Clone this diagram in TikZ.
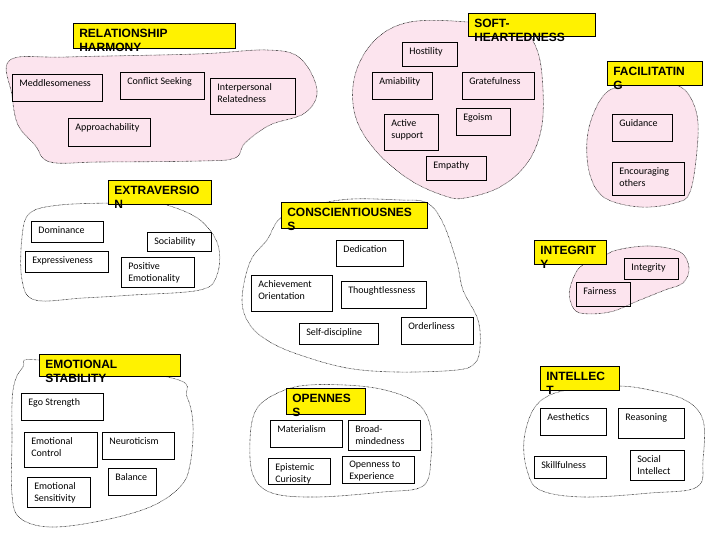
\documentclass[tikz,border=0pt]{standalone}
\usepackage{fontspec}
\setmainfont{Carlito}
\newfontfamily\headfont{Liberation Sans}
\definecolor{blobpink}{RGB}{252,228,238}

\begin{document}
\begin{tikzpicture}[x=1pt, y=-1pt,
    facet/.style={draw=black, line width=0.7pt},
    facettext/.style={anchor=north west, inner xsep=7pt, inner ysep=5pt, align=left, font=\fontsize{10}{12}\selectfont},
    headbox/.style={draw=black, fill=yellow, line width=0.6pt},
    headtext/.style={anchor=north west, inner xsep=6pt, inner ysep=6pt, align=left, font=\headfont\bfseries\fontsize{12}{14}\selectfont},
    blob/.style={draw=black, line width=0.6pt, dash pattern=on 0.5pt off 0.8pt}]

    \useasboundingbox (0,0) rectangle (720,540);

    % clusters
    \filldraw[blob, fill=blobpink] plot[smooth cycle, tension=0.6] coordinates {(10,60) (67,57) (197,54) (267,50) (300,58) (317,90) (305,113) (270,125) (245,143) (235,158) (200,161) (100,162) (50,162) (35,145) (18,125) (12,95)};
    \filldraw[blob, fill=blobpink] plot[smooth cycle, tension=0.6] coordinates {(468,22) (410,22) (375,40) (355,75) (355,115) (375,150) (410,180) (445,196) (465,198) (500,187) (528,162) (542,125) (542,75) (535,45) (520,30)};
    \filldraw[blob, fill=blobpink] plot[smooth cycle, tension=0.6] coordinates {(640,83) (610,90) (595,110) (587,140) (590,175) (605,198) (640,207) (675,203) (690,192) (697,150) (697,115) (685,90) (665,83)};
    \draw[blob] plot[smooth cycle, tension=0.6] coordinates {(113,203) (60,205) (30,213) (22,237) (22,280) (35,300) (83,298) (133,295) (200,290) (217,275) (218,245) (200,220) (170,206) (147,203)};
    \draw[blob] plot[smooth cycle, tension=0.6] coordinates {(400,200) (427,203) (443,223) (457,263) (463,290) (478,320) (480,347) (475,363) (457,370) (397,372) (347,368) (300,355) (270,342) (250,325) (242,300) (250,262) (267,240) (285,215) (340,200)};
    \filldraw[blob, fill=blobpink] plot[smooth cycle, tension=0.6] coordinates {(580,267) (600,258) (617,250) (650,246) (680,252) (689,268) (683,283) (665,290) (640,300) (610,312) (580,313) (571,303) (570,288)};
    \draw[blob] plot[smooth cycle, tension=0.6] coordinates {(39,360) (23,367) (13,390) (12,440) (12,495) (20,518) (50,527) (100,521) (150,507) (180,487) (190,465) (193,425) (187,397) (172,378)};
    \draw[blob] plot[smooth cycle, tension=0.6] coordinates {(300,386) (270,397) (255,412) (250,440) (253,475) (272,493) (317,497) (383,492) (423,486) (431,458) (430,425) (417,403) (385,390) (345,385)};
    \draw[blob] plot[smooth cycle, tension=0.6] coordinates {(580,388) (550,395) (533,410) (524,440) (527,470) (540,490) (583,497) (650,493) (697,487) (703,460) (703,420) (685,400) (650,390) (619,386)};

    % relationship harmony
    \draw[facet] (12,74) node[facettext] (meddle) {Meddlesomeness} rectangle ++(90,27);
    \draw[facet] (120,72) node[facettext] (conflict) {Conflict Seeking} rectangle ++(84,27);
    \draw[facet] (210,78) node[facettext] (interpers) {Interpersonal\\Relatedness} rectangle ++(85,36);
    \draw[facet] (68,118) node[facettext] (approach) {Approachability} rectangle ++(82,28);

    % soft-heartedness
    \draw[facet] (402,42) node[facettext] (hostility) {Hostility} rectangle ++(55,24);
    \draw[facet] (372,72) node[facettext] (amiability) {Amiability} rectangle ++(60,27);
    \draw[facet] (462,72) node[facettext] (grateful) {Gratefulness} rectangle ++(72,27);
    \draw[facet] (384,114) node[facettext] (support) {Active\\support} rectangle ++(54,36);
    \draw[facet] (456,108) node[facettext] (egoism) {Egoism} rectangle ++(54,27);
    \draw[facet] (426,156) node[facettext] (empathy) {Empathy} rectangle ++(60,24);

    % facilitating
    \draw[facet] (612,114) node[facettext] (guidance) {Guidance} rectangle ++(60,27);
    \draw[facet] (612,162) node[facettext] (encourage) {Encouraging\\others} rectangle ++(72,33);

    % extraversion
    \draw[facet] (31,221) node[facettext] (dominance) {Dominance} rectangle ++(72,21);
    \draw[facet] (147,232) node[facettext] (sociab) {Sociability} rectangle ++(64,19);
    \draw[facet] (25,251) node[facettext] (express) {Expressiveness} rectangle ++(83,21);
    \draw[facet] (121,257) node[facettext] (posemo) {Positive\\Emotionality} rectangle ++(73,30);

    % conscientiousness
    \draw[facet] (336,240) node[facettext] (dedication) {Dedication} rectangle ++(67,26);
    \draw[facet] (251,275) node[facettext] (achieve) {Achievement\\Orientation} rectangle ++(81,36);
    \draw[facet] (341,281) node[facettext] (thought) {Thoughtlessness} rectangle ++(85,27);
    \draw[facet] (299,323) node[facettext] (selfdisc) {Self-discipline} rectangle ++(79,21);
    \draw[facet] (401,317) node[facettext] (order) {Orderliness} rectangle ++(72,27);

    % integrity
    \draw[facet] (624,258) node[facettext] (integ) {Integrity} rectangle ++(54,21);
    \draw[facet] (576,282) node[facettext] (fairness) {Fairness} rectangle ++(54,24);

    % emotional stability
    \draw[facet] (21,393) node[facettext] (ego) {Ego Strength} rectangle ++(82,27);
    \draw[facet] (24,432) node[facettext] (emocontrol) {Emotional\\Control} rectangle ++(73,35);
    \draw[facet] (102,432) node[facettext] (neurot) {Neuroticism} rectangle ++(72,27);
    \draw[facet] (108,468) node[facettext] (balance) {Balance} rectangle ++(48,27);
    \draw[facet] (27,477) node[facettext] (emosens) {Emotional\\Sensitivity} rectangle ++(63,30);

    % openness
    \draw[facet] (270,420) node[facettext] (material) {Materialism} rectangle ++(72,27);
    \draw[facet] (348,420) node[facettext] (broad) {Broad-\\mindedness} rectangle ++(72,30);
    \draw[facet] (268,458) node[facettext] (epistemic) {Epistemic\\Curiosity} rectangle ++(62,26);
    \draw[facet] (342,456) node[facettext] (openexp) {Openness to\\Experience} rectangle ++(72,27);

    % intellect
    \draw[facet] (540,408) node[facettext] (aesthetics) {Aesthetics} rectangle ++(66,27);
    \draw[facet] (618,408) node[facettext] (reasoning) {Reasoning} rectangle ++(66,30);
    \draw[facet] (534,456) node[facettext] (skill) {Skillfulness} rectangle ++(72,22);
    \draw[facet] (630,450) node[facettext] (social) {Social\\Intellect} rectangle ++(54,30);

    % headings
    \draw[headbox] (73,23) node[headtext] (harmony) {RELATIONSHIP\\HARMONY} rectangle ++(162,25);
    \draw[headbox] (468,13) node[headtext] (soft) {SOFT-\\HEARTEDNESS} rectangle ++(127,23);
    \draw[headbox] (607,61) node[headtext] (facil) {FACILITATIN\\G} rectangle ++(95,24);
    \draw[headbox] (108,180) node[headtext] (extra) {EXTRAVERSIO\\N} rectangle ++(103,24);
    \draw[headbox] (281,202) node[headtext] (consc) {CONSCIENTIOUSNES\\S} rectangle ++(146,26);
    \draw[headbox] (534,240) node[headtext] (integrity) {INTEGRIT\\Y} rectangle ++(72,24);
    \draw[headbox] (39,354) node[headtext] (stability) {EMOTIONAL\\STABILITY} rectangle ++(141,22);
    \draw[headbox] (286,388) node[headtext] (openness) {OPENNES\\S} rectangle ++(79,26);
    \draw[headbox] (540,366) node[headtext] (intellect) {INTELLEC\\T} rectangle ++(79,24);
\end{tikzpicture}
\end{document}
